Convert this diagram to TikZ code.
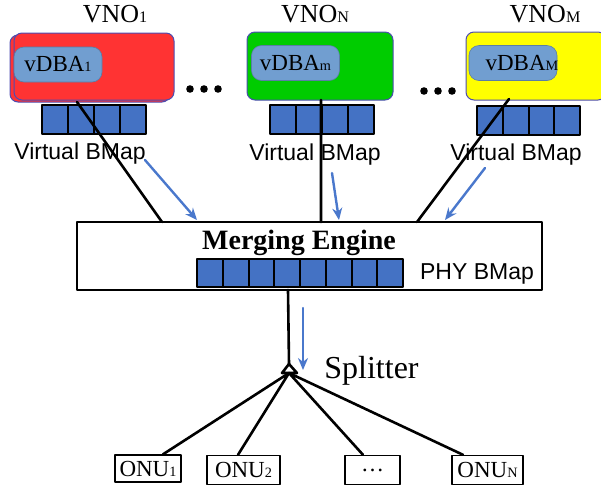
\documentclass[tikz,border=0pt]{standalone}
\usepackage{fontspec}
\setmainfont{Liberation Serif}
\setsansfont{Liberation Sans}
\usepackage{graphicx}
\usetikzlibrary{arrows.meta}
\newcommand{\lowidx}[1]{\scalebox{.62}{#1}}
\definecolor{vred}{HTML}{FF3333}
\definecolor{vgreen}{HTML}{00CC00}
\definecolor{vyellow}{HTML}{FFFF00}
\definecolor{dbablue}{HTML}{719ED0}
\definecolor{cellblue}{HTML}{4472C4}
\definecolor{arrblue}{HTML}{4A78CC}
\begin{document}
\begin{tikzpicture}[x=.5pt,y=-.5pt, line join=round, line cap=round, >={Stealth[length=6pt,width=5pt]},
	vnobox/.style={draw=gray!60!blue, line width=.5pt, rounded corners=4pt, inner sep=0pt},
	dbabox/.style={fill=dbablue, draw=dbablue!80!black, line width=.3pt, rounded corners=5pt, inner sep=0pt, minimum width=44pt, minimum height=17.5pt, font=\fontsize{11.5}{11.5}\selectfont},
	cell/.style={fill=cellblue, draw=black, line width=1pt, inner sep=0pt, minimum height=14.5pt},
	onubox/.style={draw=black, line width=.7pt, inner sep=0pt, minimum height=14.5pt, font=\fontsize{11.5}{11.5}\selectfont},
	bmap/.style={font=\sffamily\fontsize{11.5}{11.5}\selectfont, inner sep=0pt},
	blarr/.style={->, draw=arrblue, fill=arrblue, line width=1.2pt}]
	\clip (0,0) rectangle (601,489);
	%% VNO boxes
	\fill[vred, draw=gray!60!blue, line width=.5pt, rounded corners=4pt] (10,35) rectangle (170,102);
	\node[vnobox, fill=vred, minimum width=80pt, minimum height=33.5pt] (vno1) at (94,66.5) {};
	\node[vnobox, fill=vgreen, minimum width=73pt, minimum height=34pt] (vnoN) at (320,66) {};
	\node[vnobox, fill=vyellow, minimum width=70pt, minimum height=34pt] (vnoM) at (536,66) {};
	\node[dbabox] (dba1) at (58,64.5) {vDBA\lowidx{1}};
	\node[dbabox] (dbam) at (295.5,63) {vDBA\lowidx{m}};
	\node[dbabox] (dbaM) at (513,63) {};
	\node[font=\fontsize{11.5}{11.5}\selectfont, inner sep=0pt] at (522,63) {vDBA\lowidx{M}};
	%% titles
	\node[font=\fontsize{13}{13}\selectfont] (t1) at (115,14) {VNO\lowidx{1}};
	\node[font=\fontsize{13}{13}\selectfont] (tN) at (315,14) {VNO\lowidx{N}};
	\node[font=\fontsize{13}{13}\selectfont] (tM) at (545,14) {VNO\lowidx{M}};
	\foreach \x in {0,1,2}{
		\fill ({190+14*\x},89) circle (1.9pt);
		\fill ({424+14*\x},91) circle (1.9pt);
	}
	%% virtual bitmaps
	\foreach \i in {0,...,3}{
		\node[cell, minimum width=13pt] (qa\i) at ({55+26*\i},119.5) {};
		\node[cell, minimum width=13pt] (qb\i) at ({283+26*\i},119.5) {};
		\node[cell, minimum width=13pt] (qc\i) at ({490+25.75*\i},120.5) {};
	}
	\node[bmap] (b1) at (80,154) {Virtual BMap};
	\node[bmap] (bN) at (315,155) {Virtual BMap};
	\node[bmap] (bM) at (516,155) {Virtual BMap};
	%% merging engine
	\node[draw=black, line width=1pt, minimum width=232.5pt, minimum height=34pt, inner sep=0pt] (merge) at (309.5,256) {};
	\node[font=\bfseries\fontsize{14}{14}\selectfont, inner sep=0pt] (mtext) at (299,243) {Merging Engine};
	\foreach \i in {0,...,7}
		\node[cell, minimum width=12.875pt, minimum height=14pt] (ph\i) at ({209.875+25.75*\i},273) {};
	\node[bmap] (phy) at (477,274) {PHY BMap};
	%% connectors
	\coordinate (v1b) at (77,102);   \coordinate (m1) at (162,222);
	\coordinate (vNb) at (321,100);  \coordinate (mN) at (321,222);
	\coordinate (vMb) at (509,99);   \coordinate (mM) at (417,222);
	\draw[line width=1.3pt] (v1b)--(m1) (vNb)--(mN) (vMb)--(mM);
	\coordinate (a1s) at (145,160);  \coordinate (a1e) at (197,220);
	\coordinate (aNs) at (332,173);  \coordinate (aNe) at (339,220);
	\coordinate (aMs) at (485,168);  \coordinate (aMe) at (445,220);
	\draw[blarr] (a1s)--(a1e);
	\draw[blarr] (aNs)--(aNe);
	\draw[blarr] (aMs)--(aMe);
	%% splitter
	\coordinate (mb) at (288,290);
	\coordinate (apex) at (289,364);
	\coordinate (splt) at (289,373);
	\draw[line width=1.3pt] (mb)--(apex);
	\draw[line width=1.3pt, fill=white] (apex)--(282,373)--(297,373)--cycle;
	\node[font=\fontsize{16}{16}\selectfont, anchor=west, inner sep=0pt] (stext) at (324,371) {Splitter};
	\coordinate (as) at (303,308);  \coordinate (ae) at (303,370);
	\draw[blarr] (as)--(ae);
	%% ONUs
	\node[onubox, minimum width=33pt, minimum height=13.5pt] (onu1) at (148,468.5) {ONU\lowidx{1}};
	\node[onubox, minimum width=36.5pt] (onu2) at (243.5,470) {ONU\lowidx{2}};
	\node[onubox, minimum width=27.5pt] (onud) at (372.5,470) {\dots};
	\node[onubox, minimum width=35.5pt] (onuN) at (487.5,470) {ONU\lowidx{N}};
	\draw[line width=1.3pt] (splt)--([xshift=7.5pt]onu1.north)
		(splt)--([xshift=-2.75pt]onu2.north)
		(splt)--([xshift=-4.75pt]onud.north)
		(splt)--([xshift=-12.25pt]onuN.north);
\end{tikzpicture}
\end{document}
